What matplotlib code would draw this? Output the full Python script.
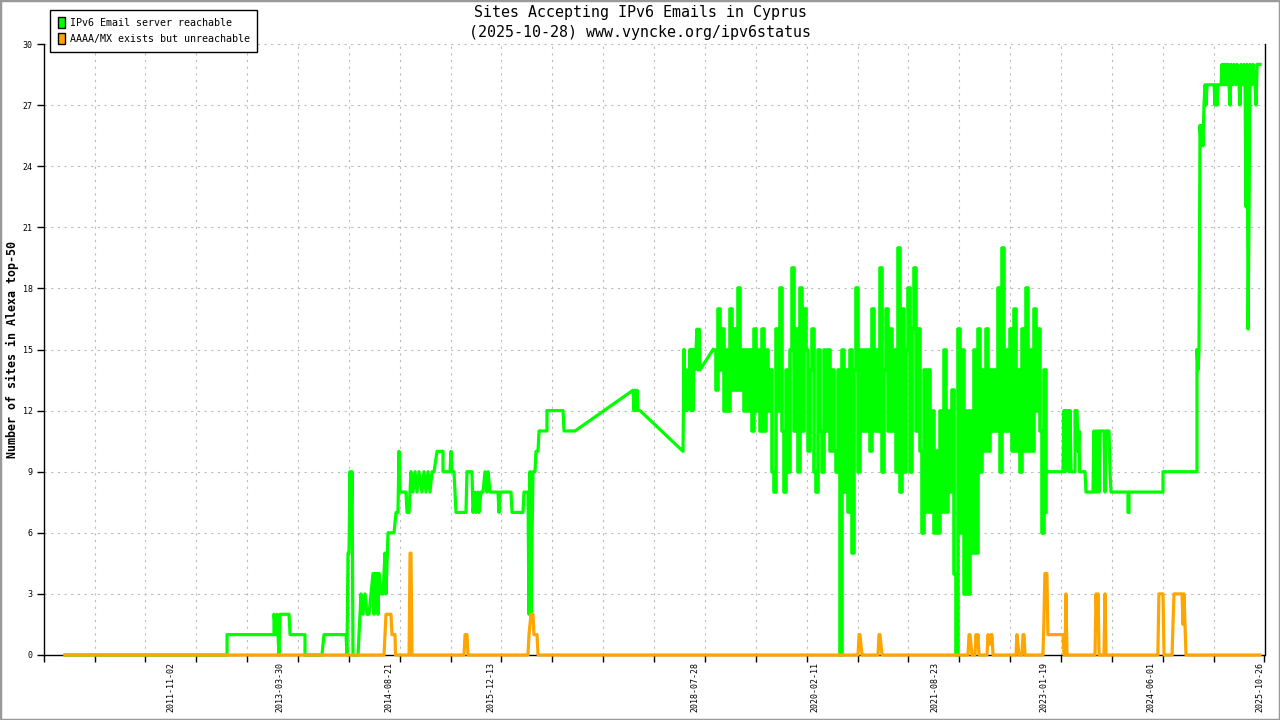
import matplotlib
matplotlib.use("Agg")
import matplotlib.pyplot as plt
from matplotlib.patches import Patch, Rectangle
import numpy as np
import pandas as pd

# all x values are decimal years
green_early_years = [
    2010.477, 2012.557, 2012.557, 2013.160, 2013.160, 2013.186, 2013.199, 2013.224, 2013.237, 2013.353,
    2013.366, 2013.558, 2013.558, 2013.776, 2013.802, 2014.085, 2014.097, 2014.110, 2014.123, 2014.136,
    2014.149, 2014.162, 2014.174, 2014.239, 2014.252, 2014.277, 2014.303, 2014.329, 2014.354, 2014.380,
    2014.406, 2014.431, 2014.444, 2014.457, 2014.470, 2014.483, 2014.495, 2014.508, 2014.534, 2014.560,
    2014.585, 2014.598, 2014.624, 2014.650, 2014.675, 2014.701, 2014.727, 2014.752, 2014.765, 2014.778,
    2014.855, 2014.868, 2014.894, 2014.919, 2014.945, 2014.971, 2014.996, 2015.022, 2015.060, 2015.086,
    2015.112, 2015.137, 2015.163, 2015.189, 2015.215, 2015.253, 2015.330, 2015.330, 2015.420, 2015.433,
    2015.446, 2015.471, 2015.484, 2015.497, 2015.625, 2015.638, 2015.702, 2015.715, 2015.741, 2015.754,
    2015.780, 2015.792, 2015.818, 2015.844, 2015.869, 2015.895, 2015.908, 2015.934, 2016.036, 2016.049,
    2016.062, 2016.203, 2016.216, 2016.357, 2016.370, 2016.421, 2016.434, 2016.447, 2016.460, 2016.485,
    2016.511, 2016.524, 2016.550, 2016.563, 2016.665, 2016.665, 2016.871, 2016.884, 2017.025, 2017.770,
    2017.783, 2017.795, 2017.808, 2017.821, 2017.834, 2017.860, 2018.412, 2018.424, 2018.437, 2018.450,
    2018.463, 2018.476, 2018.489, 2018.502, 2018.514, 2018.527, 2018.540, 2018.553, 2018.566, 2018.591,
    2018.604, 2018.617, 2018.630, 2018.797,
]
green_early_values = [
    0, 0, 1, 1, 2, 1, 2, 0, 2, 2,
    1, 1, 0, 0, 1, 1, 0, 5, 5, 9,
    6, 9, 0, 0, 1, 3, 2, 3, 2, 2,
    3, 4, 2, 4, 3, 4, 2, 4, 3, 3,
    5, 3, 6, 6, 6, 6, 7, 7, 10, 8,
    8, 7, 7, 9, 8, 9, 8, 9, 8, 9,
    8, 9, 8, 9, 9, 10, 10, 9, 9, 10,
    9, 9, 8, 7, 7, 9, 9, 7, 8, 7,
    8, 7, 8, 8, 9, 8, 9, 8, 8, 7,
    8, 8, 7, 7, 8, 8, 2, 9, 2, 9,
    9, 10, 10, 11, 11, 12, 12, 11, 11, 13,
    12, 13, 12, 13, 12, 12, 10, 15, 12, 14,
    12, 14, 13, 15, 12, 15, 12, 15, 14, 16,
    14, 16, 14, 15,
]

# daily readings in the busy 2018-2023 stretch, one kept every ~9.4 days
dense_first_year = 2018.810
dense_step_years = 0.02568
green_dense_values = [
    15, 13, 17, 14, 16, 12, 15, 12, 17, 13,
    16, 13, 18, 13, 15, 12, 15, 12, 15, 11,
    16, 12, 15, 11, 16, 11, 15, 12, 14, 9,
    8, 16, 12, 18, 11, 8, 14, 9, 15, 19,
    11, 16, 9, 18, 11, 17, 15, 10, 14, 16,
    9, 8, 15, 11, 9, 15, 11, 15, 10, 14,
    10, 9, 14, 0, 15, 8, 14, 7, 15, 5,
    14, 18, 9, 15, 11, 15, 11, 15, 10, 17,
    11, 15, 11, 19, 9, 14, 17, 11, 16, 11,
    15, 9, 20, 8, 17, 9, 15, 18, 9, 16,
    19, 11, 16, 10, 6, 14, 7, 14, 7, 12,
    6, 10, 6, 12, 7, 15, 7, 12, 8, 13,
    4, 0, 16, 6, 15, 3, 12, 3, 12, 5,
    15, 5, 16, 9, 14, 10, 16, 10, 14, 11,
    14, 11, 18, 9, 20, 11, 15, 11, 16, 10,
    17, 10, 14, 9, 16, 10, 18, 10, 15, 10,
    17, 12, 16, 11, 6, 14, 7,
]

green_late_years = [
    2023.081, 2023.291, 2023.304, 2023.317, 2023.329, 2023.342, 2023.355, 2023.368, 2023.381, 2023.394,
    2023.445, 2023.445, 2023.471, 2023.484, 2023.497, 2023.503, 2023.573, 2023.586, 2023.676, 2023.689,
    2023.702, 2023.715, 2023.728, 2023.741, 2023.753, 2023.766, 2023.817, 2023.830, 2023.843, 2023.881,
    2023.894, 2023.907, 2024.125, 2024.125, 2024.138, 2024.138, 2024.575, 2024.575, 2025.011, 2025.011,
    2025.024, 2025.037, 2025.050, 2025.063, 2025.076, 2025.088, 2025.101, 2025.114, 2025.127, 2025.140,
    2025.230, 2025.243, 2025.256, 2025.268, 2025.281, 2025.320, 2025.333, 2025.346, 2025.358, 2025.371,
    2025.384, 2025.397, 2025.410, 2025.423, 2025.435, 2025.448, 2025.474, 2025.487, 2025.513, 2025.525,
    2025.551, 2025.564, 2025.577, 2025.603, 2025.615, 2025.628, 2025.641, 2025.654, 2025.667, 2025.680,
    2025.692, 2025.718, 2025.731, 2025.757, 2025.770, 2025.783, 2025.820,
]
green_late_values = [
    9, 9, 12, 9, 12, 10, 12, 9, 12, 9,
    9, 12, 12, 10, 11, 9, 9, 8, 8, 11,
    8, 11, 8, 11, 8, 11, 11, 8, 11, 11,
    9, 8, 8, 7, 7, 8, 8, 9, 9, 15,
    14, 15, 26, 25, 26, 25, 27, 28, 27, 28,
    28, 27, 28, 27, 28, 28, 29, 28, 29, 28,
    29, 28, 29, 28, 27, 29, 28, 29, 28, 29,
    28, 27, 29, 28, 29, 28, 22, 29, 16, 22,
    29, 28, 29, 28, 27, 29, 29,
]

orange_years = [
    2010.477, 2014.573, 2014.585, 2014.598, 2014.662, 2014.675, 2014.714, 2014.720, 2014.894, 2014.907,
    2014.919, 2014.932, 2015.600, 2015.613, 2015.638, 2015.651, 2016.421, 2016.434, 2016.460, 2016.485,
    2016.498, 2016.537, 2016.550, 2020.659, 2020.672, 2020.684, 2020.697, 2020.710, 2020.916, 2020.928,
    2020.941, 2020.954, 2020.967, 2022.071, 2022.084, 2022.097, 2022.110, 2022.122, 2022.161, 2022.174,
    2022.187, 2022.199, 2022.212, 2022.315, 2022.328, 2022.341, 2022.366, 2022.379, 2022.392, 2022.687,
    2022.700, 2022.713, 2022.726, 2022.764, 2022.777, 2022.790, 2022.803, 2023.033, 2023.045, 2023.058,
    2023.084, 2023.097, 2023.291, 2023.304, 2023.317, 2023.329, 2023.342, 2023.702, 2023.715, 2023.728,
    2023.741, 2023.753, 2023.817, 2023.830, 2023.843, 2024.509, 2024.522, 2024.575, 2024.588, 2024.691,
    2024.703, 2024.716, 2024.819, 2024.832, 2024.844, 2024.857, 2024.870, 2025.820,
]
orange_values = [
    0, 0, 1, 2, 2, 1, 1, 0, 0, 5,
    5, 0, 0, 1, 1, 0, 0, 1, 2, 2,
    1, 1, 0, 0, 1, 1, 0.5, 0, 0, 1,
    1, 0.5, 0, 0, 1, 1, 0.5, 0, 0, 1,
    0.5, 1, 0, 0, 1, 0.5, 1, 1, 0, 0,
    1, 0.5, 0, 0, 1, 1, 0, 0, 1.5, 4,
    4, 1, 1, 0, 0, 3, 0, 0, 3, 1.5,
    3, 0, 0, 3, 0, 0, 3, 3, 0, 0,
    1.5, 3, 3, 1.5, 3, 1.5, 0, 0,
]

label_dates = ["2011-11-02", "2013-03-30", "2014-08-21", "2015-12-13", "2018-07-28",
               "2020-02-11", "2021-08-23", "2023-01-19", "2024-06-01", "2025-10-26"]
y_ticks = list(range(0, 31, 3))

GREEN = "#00ff00"
ORANGE = "#ffa500"
MONO = "DejaVu Sans Mono"
LW = 2.3

dense_years = dense_first_year + dense_step_years * np.arange(len(green_dense_values))


def decimal_year(s):
    t = pd.Timestamp(s)
    days = 366 if t.is_leap_year else 365
    return t.year + (t.dayofyear - 1) / days


label_pos = [decimal_year(d) for d in label_dates]

fig = plt.figure(figsize=(12.8, 7.2), dpi=100)
ax = fig.add_axes([43.7 / 1280, 65 / 720, (1264.5 - 43.7) / 1280, 611 / 720])

ax.plot(green_early_years, green_early_values, color=GREEN, lw=LW, zorder=3, clip_on=False)
ax.plot(dense_years, green_dense_values, color=GREEN, lw=2.6, drawstyle="steps-post",
        zorder=3, clip_on=False)
ax.plot(green_late_years, green_late_values, color=GREEN, lw=LW, zorder=3, clip_on=False)
ax.plot(orange_years, orange_values, color=ORANGE, lw=LW, zorder=4, clip_on=False)

x_min, x_max = 2010.203, 2025.878
ax.set_xlim(x_min, x_max)
ax.set_ylim(0, 30)

grid_x = np.linspace(x_min, x_max, 25)
ax.set_xticks(grid_x)
ax.set_xticklabels([])
ax.set_xticks(label_pos, minor=True)
ax.set_xticklabels(label_dates, minor=True, rotation=90, fontsize=6, family=MONO)
ax.tick_params(axis="x", which="major", direction="out", length=5, width=1)
ax.tick_params(axis="x", which="minor", length=0, pad=5)

ax.set_yticks(y_ticks)
ax.set_yticklabels([str(v) for v in y_ticks], fontsize=6, family=MONO)
ax.tick_params(axis="y", direction="out", length=5, width=1, pad=3)

for gx in grid_x[1:-1]:
    ax.axvline(gx, color="#bbbbbb", lw=0.8, ls=(0, (2, 4)), zorder=1)
for gy in y_ticks[1:]:
    ax.axhline(gy, color="#bbbbbb", lw=0.8, ls=(0, (2, 4)), zorder=1)

ax.spines["top"].set_visible(False)
for s in ["left", "right", "bottom"]:
    ax.spines[s].set_color("black")
    ax.spines[s].set_linewidth(1)

fig.text(0.5, 1 - 13 / 720, "Sites Accepting IPv6 Emails in Cyprus",
         ha="center", va="center", fontsize=10.8, family=MONO)
fig.text(0.5, 1 - 32 / 720, "(2025-10-28) www.vyncke.org/ipv6status",
         ha="center", va="center", fontsize=10.8, family=MONO)
fig.text(12 / 1280, 1 - 349 / 720, "Number of sites in Alexa top-50", rotation=90,
         ha="center", va="center", fontsize=8.4, family=MONO, fontweight="bold")

handles = [Patch(facecolor=GREEN, edgecolor="black", lw=1),
           Patch(facecolor=ORANGE, edgecolor="black", lw=1)]
leg = ax.legend(handles, ["IPv6 Email server reachable", "AAAA/MX exists but unreachable"],
                loc="upper left", bbox_to_anchor=(50 / 1280, 1 - 10 / 720),
                bbox_transform=fig.transFigure, prop={"family": MONO, "size": 7.2},
                fancybox=False, framealpha=1, edgecolor="black", borderaxespad=0,
                handlelength=0.7, handleheight=1.3, handletextpad=0.5,
                labelspacing=0.5, borderpad=0.75)
leg.get_frame().set_linewidth(1)
leg.set_zorder(10)

fig.patches.append(Rectangle((0, 0), 1, 1, transform=fig.transFigure, fill=False,
                             edgecolor="#999999", lw=2.5))

fig.savefig("out.png", dpi=100)
